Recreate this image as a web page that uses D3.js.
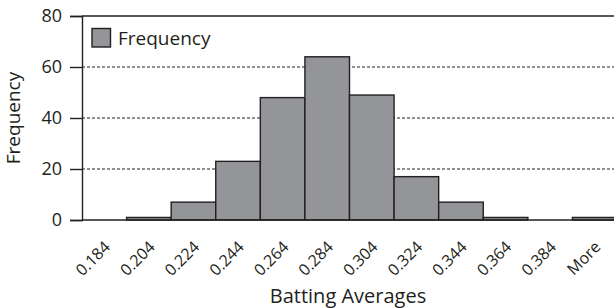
<!DOCTYPE html>
<html>
<head>
<meta charset="utf-8">
<script src="https://cdn.jsdelivr.net/npm/d3@7"></script>
<style>
  body { margin: 0; background: #fff; }
  svg text { font-family: "Open Sans", sans-serif; fill: #231f20; }
</style>
</head>
<body>
<div id="chart"></div>
<script>
// bins and counts
var bins = ["0.184", "0.204", "0.224", "0.244", "0.264", "0.284", "0.304", "0.324", "0.344", "0.364", "0.384", "More"];
var frequency = [0, 1, 7, 23, 48, 64, 49, 17, 7, 1, 0, 1];
var yTicks = [0, 20, 40, 60, 80];

var width = 614, height = 308;
var margin = { top: 16, right: -3, bottom: 88, left: 82 };

var svg = d3.select("#chart")
    .append("svg")
        .attr("width", width)
        .attr("height", height);

var x = d3.scaleBand()
    .domain(bins)
    .range([margin.left, width - margin.right])
    .padding(0);

var y = d3.scaleLinear()
    .domain([0, 80])
    .range([height - margin.bottom, margin.top]);

var ink = "#231f20";

// dashed grid lines
svg.append("g")
    .selectAll("line")
    .data(yTicks.filter(d => d > 0 && d < 80))
    .join("line")
        .attr("x1", margin.left)
        .attr("x2", width)
        .attr("y1", d => y(d))
        .attr("y2", d => y(d))
        .attr("stroke", ink)
        .attr("stroke-width", 1)
        .attr("stroke-dasharray", "3,2");

// top border
svg.append("line")
    .attr("x1", margin.left).attr("x2", width)
    .attr("y1", y(80)).attr("y2", y(80))
    .attr("stroke", ink).attr("stroke-width", 1.3);

// bars
svg.append("g")
    .selectAll("rect")
    .data(frequency)
    .join("rect")
        .attr("x", (d, i) => x(bins[i]))
        .attr("y", d => y(d))
        .attr("width", x.bandwidth())
        .attr("height", d => y(0) - y(d))
        .attr("fill", "#939598")
        .attr("stroke", d => d > 0 ? ink : "none")
        .attr("stroke-width", 1.4);

// y axis
var yAxis = svg.append("g")
    .attr("transform", "translate(" + margin.left + ",0)")
    .call(d3.axisLeft(y).tickValues(yTicks).tickSize(12).tickPadding(8));
yAxis.select(".domain").attr("stroke", ink).attr("stroke-width", 1.4);
yAxis.selectAll(".tick line").attr("stroke", ink).attr("stroke-width", 1.4);
yAxis.selectAll(".tick text")
    .attr("font-size", 18)
    .attr("font-family", "Open Sans, sans-serif")
    .attr("fill", ink);

// x axis line
svg.append("line")
    .attr("x1", margin.left).attr("x2", width)
    .attr("y1", y(0)).attr("y2", y(0))
    .attr("stroke", ink).attr("stroke-width", 1.4);

// x tick labels, rotated
svg.append("g")
    .selectAll("text")
    .data(bins)
    .join("text")
        .attr("transform", d => "translate(" + (x(d) + x.bandwidth() / 2 + 7) + "," + (y(0) + 28) + ") rotate(-45)")
        .attr("text-anchor", "end")
        .attr("font-size", 16)
        .text(d => d);

// axis titles
svg.append("text")
    .attr("x", 348)
    .attr("y", 303)
    .attr("text-anchor", "middle")
    .attr("font-size", 20)
    .text("Batting Averages");

svg.append("text")
    .attr("transform", "translate(20," + ((y(0) + y(80)) / 2) + ") rotate(-90)")
    .attr("text-anchor", "middle")
    .attr("font-size", 19)
    .text("Frequency");

// legend
var legend = svg.append("g").attr("transform", "translate(92,28.5)");
legend.append("rect")
    .attr("width", 18.5).attr("height", 18.5)
    .attr("fill", "#939598")
    .attr("stroke", ink)
    .attr("stroke-width", 1.4);
legend.append("text")
    .attr("x", 26).attr("y", 16)
    .attr("font-size", 19)
    .text("Frequency");
</script>
</body>
</html>
